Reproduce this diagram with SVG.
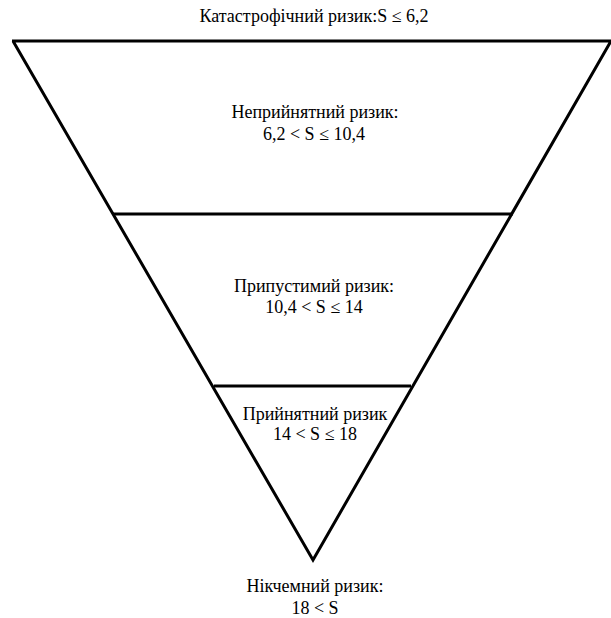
<svg xmlns="http://www.w3.org/2000/svg" width="611" height="618" viewBox="0 0 611 618">
<style>
.t{font-family:'Liberation Serif','Times New Roman',serif;font-size:18px;fill:#000;text-anchor:middle}
.ln{stroke:#000;stroke-width:3;fill:none}
</style>
<rect width="611" height="618" fill="#fff"/>
<g id="connectors">
<path class="ln" d="M12,41 L611,41 M13,41 L313,560 L611,41"/>
<line class="ln" x1="113" y1="214" x2="513" y2="214"/>
<line class="ln" x1="214" y1="386" x2="411" y2="386"/>
</g>
<g id="catastrophic"><text class="t" x="314" y="22">Катастрофічний ризик:S ≤ 6,2</text></g>
<g id="unacceptable"><text class="t" x="315" y="118">Неприйнятний ризик:</text><text class="t" x="314" y="140">6,2 &lt; S ≤ 10,4</text></g>
<g id="tolerable"><text class="t" x="314" y="292">Припустимий ризик:</text><text class="t" x="314" y="313">10,4 &lt; S ≤ 14</text></g>
<g id="acceptable"><text class="t" x="315" y="420">Прийнятний ризик</text><text class="t" x="315" y="440">14 &lt; S ≤ 18</text></g>
<g id="negligible"><text class="t" x="315" y="592">Нікчемний ризик:</text><text class="t" x="315" y="614">18 &lt; S</text></g>
</svg>
